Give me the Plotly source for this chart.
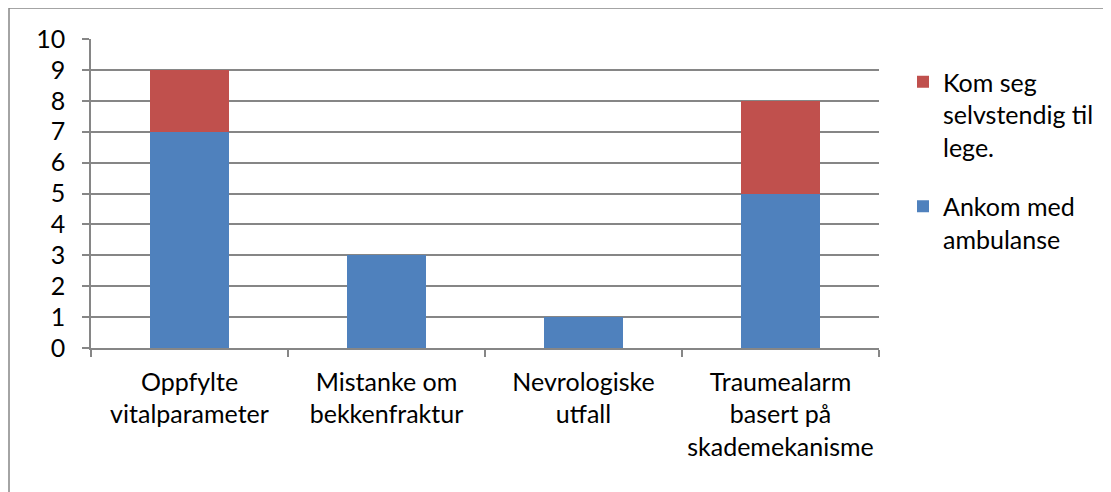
import plotly.graph_objects as go

categories = ["Oppfylte<br>vitalparameter", "Mistanke om<br>bekkenfraktur",
              "Nevrologiske<br>utfall", "Traumealarm<br>basert på<br>skademekanisme"]
ambulanse = [7, 3, 1, 5]
selvstendig = [2, 0, 0, 3]
y_ticks = list(range(0, 11))

OFF = 8  # page body margin
W, H = 1111 - OFF, 492 - OFF
L, R, T, B = 91 - OFF, 879 - OFF, 39 - OFF, 348 - OFF  # plot area in figure px
FONT = "Lato"
GRAY = "#868686"
FS = 25

fig = go.Figure()
fig.add_trace(go.Bar(x=categories, y=ambulanse, name="Ankom med<br>ambulanse",
                     marker=dict(color="#4F81BD", line=dict(width=0)),
                     legendgroup="a", legendrank=2))
fig.add_trace(go.Bar(x=categories, y=selvstendig, name="Kom seg<br>selvstendig til<br>lege.",
                     marker=dict(color="#C0504D", line=dict(width=0)),
                     legendgroup="b", legendrank=1))

def px_x(x):
    return (x - OFF - L) / (R - L)

def px_y(y):
    return (B - (y - OFF)) / (B - T)

fig.update_layout(
    width=W, height=H,
    barmode="stack", bargap=0.6,
    margin=dict(l=L, r=W - R, t=T, b=H - B, pad=0),
    paper_bgcolor="white", plot_bgcolor="white",
    font=dict(family=FONT, size=FS, color="black"),
    legend=dict(x=px_x(903), y=px_y(59), xanchor="left", yanchor="top",
                traceorder="grouped", tracegroupgap=24, valign="top",
                font=dict(family=FONT, size=FS, color="black"),
                bgcolor="rgba(0,0,0,0)"),
    xaxis=dict(showline=True, linecolor=GRAY, linewidth=1.5, ticks="outside",
               tickson="boundaries", ticklen=7, tickcolor=GRAY, tickwidth=1.5,
               showgrid=False, tickfont=dict(family=FONT, size=FS, color="black"),
               ticklabelstandoff=11, fixedrange=True),
    yaxis=dict(range=[0, 10], tickvals=y_ticks, showline=True, linecolor=GRAY,
               linewidth=1.5, ticks="outside", ticklen=7, tickcolor=GRAY, tickwidth=1.5,
               showgrid=True, gridcolor=GRAY, gridwidth=1.5, zeroline=False,
               tickfont=dict(family=FONT, size=FS, color="black"),
               ticklabelstandoff=12, fixedrange=True),
    shapes=[
        dict(type="line", xref="paper", yref="paper", x0=px_x(9), x1=px_x(1120),
             y0=px_y(8), y1=px_y(8), line=dict(color=GRAY, width=1.5), layer="above"),
        dict(type="line", xref="paper", yref="paper", x0=px_x(9), x1=px_x(9),
             y0=px_y(8), y1=px_y(500), line=dict(color=GRAY, width=1.5), layer="above"),
    ],
)

fig.write_html("out.html")
